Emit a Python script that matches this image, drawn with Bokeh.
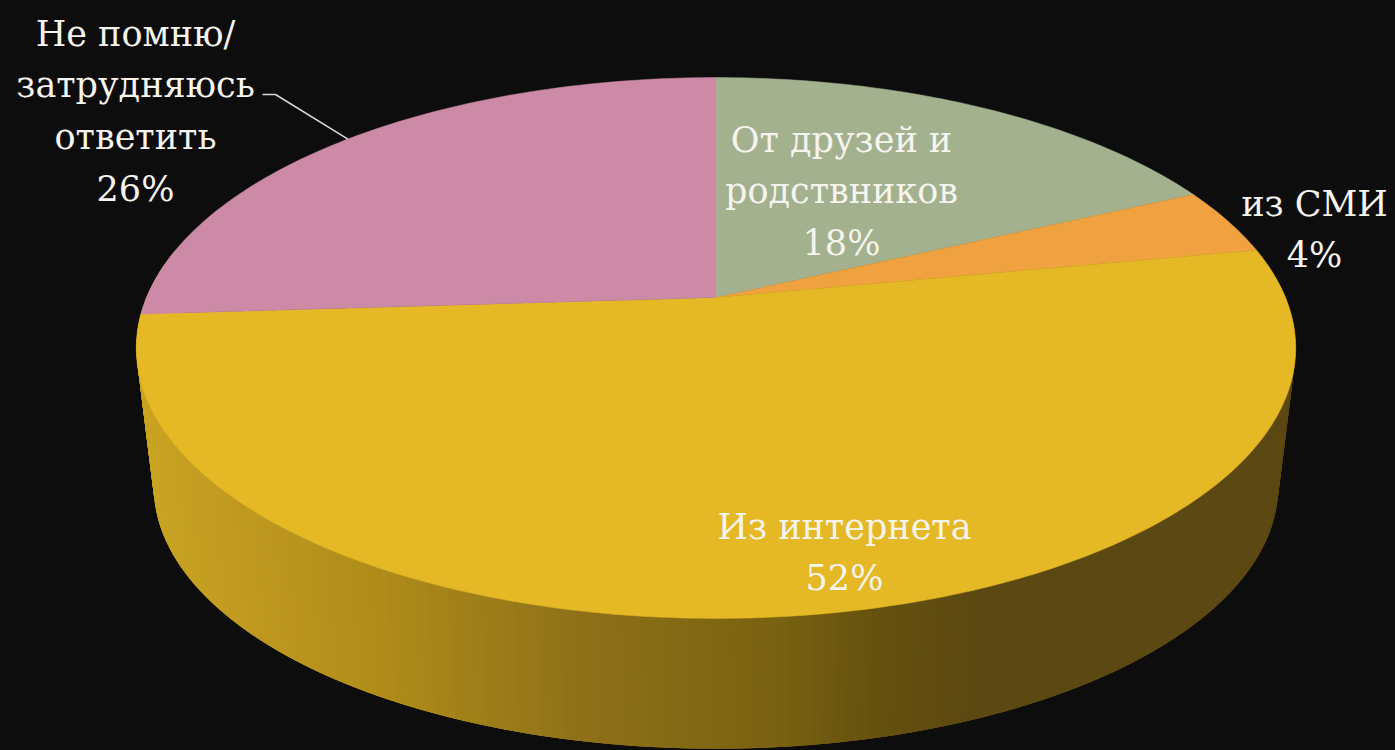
import numpy as np
from bokeh.plotting import figure
from bokeh.models import Range1d, ColumnDataSource
from bokeh.core.properties import value
from bokeh.embed import file_html
from bokeh.resources import INLINE

# --- data ---
categories = ["От друзей и родственников", "из СМИ", "Из интернета", "Не помню/затрудняюсь ответить"]
shares = [18, 4, 52, 26]
percent_labels = ["18%", "4%", "52%", "26%"]
label_lines = [
    ["От друзей и", "родствников"],
    ["из СМИ"],
    ["Из интернета"],
    ["Не помню/", "затрудняюсь", "ответить"],
]

# --- styles / geometry of the projected disc (pixel units of the page) ---
W, H = 1395, 750
BG = "#0d0d0d"
slice_colors = ["#a3b18f", "#efa23f", "#e4b925", "#cc8aa6"]
CX, CY = 715.5, 297.0
A, B, K = 261.0, 569.5, 0.1867
DEPTH, SHRINK = 140.0, 0.97
FONT = "DejaVu Serif"
FS = "35px"
LINE_H = 51.7
label_anchor = [(841, 139), (1314, 203), (844, 526), (135, 33)]


def project(theta, radius=1.0, top=True):
    """theta: clockwise from 12 o'clock, in radians."""
    u, v = radius * np.sin(theta), -radius * np.cos(theta)
    d = 1 - K * v
    s = 1.0 if top else SHRINK
    off = 0.0 if top else DEPTH
    return CX + s * B * u / d, CY + off + s * A * v / d


def side_color(x):
    stops = [136, 250, 400, 600, 800, 900, 1000, 1295]
    r = [203, 193, 176, 143, 122, 102, 92, 92]
    g = [166, 154, 140, 114, 98, 82, 72, 72]
    b = [36, 32, 26, 25, 18, 15, 18, 18]
    return "#%02x%02x%02x" % (int(np.interp(x, stops, r)), int(np.interp(x, stops, g)), int(np.interp(x, stops, b)))


p = figure(width=W, height=H, x_range=Range1d(0, W), y_range=Range1d(H, 0),
           output_backend="svg", toolbar_location=None,
           background_fill_color=BG, border_fill_color=BG,
           min_border=0, outline_line_color=None,
           styles={"position": "fixed", "left": "0px", "top": "0px", "background-color": BG})
p.axis.visible = False
p.grid.visible = False

# --- side wall: each strip runs on under the next one so no seams show ---
th_side = np.radians(np.linspace(79.2, 280.8, 203))
xt, yt = project(th_side)
xb, yb = project(th_side, top=False)
xs, ys, cs = [], [], []
for i in range(len(th_side) - 1):
    j = min(i + 3, len(th_side) - 1)
    xs.append([xt[i], xt[j], xb[j], xb[i]])
    ys.append([yt[i], yt[j], yb[j], yb[i]])
    cs.append(side_color((xt[i] + xt[i + 1] + xb[i] + xb[i + 1]) / 4))
p.patches(xs[::-1], ys[::-1], fill_color=cs[::-1], line_color=None)

# --- top face, one wedge per share, clockwise from 12 o'clock ---
edges = np.concatenate([[0], np.cumsum(shares)]) / np.sum(shares) * 2 * np.pi
for start, end, col in zip(edges[:-1], edges[1:], slice_colors):
    th = np.linspace(start, end, max(int((end - start) * 60), 8))
    x, y = project(th)
    p.patch(np.r_[CX, x], np.r_[CY, y], fill_color=col, line_color=col, line_width=0.5)

# --- labels ---
tx, ty, tt = [], [], []
for lines, pct, (ax, ay) in zip(label_lines, percent_labels, label_anchor):
    for j, t in enumerate(lines + [pct]):
        tx.append(ax)
        ty.append(ay + j * LINE_H)
        tt.append(t)
p.text(x="x", y="y", text="t", source=ColumnDataSource(dict(x=tx, y=ty, t=tt)),
       text_font=value(FONT), text_font_size=value(FS), text_color="#f6f4ee",
       text_align="center", text_baseline="middle")

# --- leader line of the last label ---
lx, ly = project(edges[3] + (edges[4] - edges[3]) * 0.50)
p.line([262, 275, lx], [94, 94, ly], line_color="#d8d8d8", line_width=1.5)

open("out.html", "w").write(file_html(p, INLINE))
